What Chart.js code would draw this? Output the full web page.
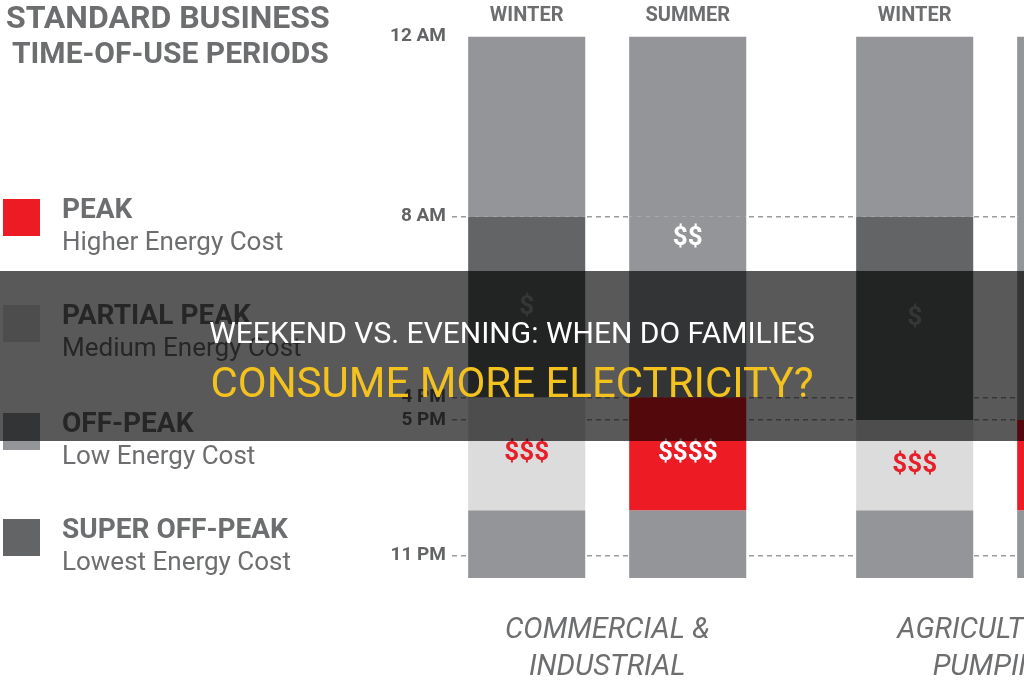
<!DOCTYPE html>
<html>
<head>
<meta charset="utf-8">
<script src="https://cdn.jsdelivr.net/npm/chart.js@4.4.1/dist/chart.umd.min.js"></script>
<style>
  html, body { margin: 0; padding: 0; width: 1024px; height: 680px; overflow: hidden; background: #ffffff; }
  #wrap { position: relative; width: 1024px; height: 680px; overflow: hidden; }
  #chart { position: absolute; left: 0; top: 0; }
  .t { position: absolute; white-space: nowrap; font-family: Roboto, "Liberation Sans", sans-serif; color: #6d6e70; }
  .title { font-weight: 700; }
  .sw { position: absolute; left: 3px; width: 37px; height: 37px; }
  .lname { font-weight: 700; font-size: 28px; line-height: 28px; left: 62px; }
  .ldesc { font-weight: 400; font-size: 26px; line-height: 26px; left: 62px; }
  #banner { position: absolute; left: 0; top: 271px; width: 1024px; height: 170px; background: rgba(0,0,0,0.65); z-index: 5; }
  .bt { position: absolute; left: 0; width: 1024px; text-align: center; white-space: nowrap; font-family: Roboto, "Liberation Sans", sans-serif; font-weight: 400; }
</style>
</head>
<body>
<div id="wrap">
  <canvas id="chart" width="1240" height="680"></canvas>
  <div class="t title" id="title1" style="left:6px; top:1px; font-size:32px; line-height:32px;"></div>
  <div class="t title" id="title2" style="left:12px; top:38px; font-size:30px; line-height:30px;"></div>
  <div id="legend"></div>
  <div id="banner">
    <div class="bt" id="head1" style="top:47px; font-size:30px; line-height:30px; color:#ffffff;"></div>
    <div class="bt" id="head2" style="top:91px; font-size:42px; line-height:42px; color:#f3c21f;"></div>
  </div>
</div>
<script>
// ---------- DATA ----------
const chartTitle = ['STANDARD BUSINESS', 'TIME-OF-USE PERIODS'];
const headline = ['WEEKEND VS. EVENING: WHEN DO FAMILIES', 'CONSUME MORE ELECTRICITY?'];

const categories = ['COMMERCIAL & INDUSTRIAL', 'AGRICULTURAL PUMPING'];
const categoryLines = [['COMMERCIAL &', 'INDUSTRIAL'], ['AGRICULTURAL', 'PUMPING']];
const categoryIndex = [1, 2];
const seasons = ['WINTER', 'SUMMER'];

// time periods in hours after midnight, [start, end] per category
const winterMorning = [[0, 8], [0, 8]];
const winterDay     = [[8, 16], [8, 17]];
const winterEvening = [[16, 21], [17, 21]];
const winterNight   = [[21, 24], [21, 24]];
const summerMorning = [[0, 8], [0, 8]];
const summerDay     = [[8, 16], [8, 17]];
const summerEvening = [[16, 21], [17, 21]];
const summerNight   = [[21, 24], [21, 24]];

const priceWinterDay = '$';
const priceWinterEvening = '$$$';
const priceSummerDay = '$$';
const priceSummerEvening = '$$$$';

const tickHours  = [0, 8, 16, 17, 23];
const tickLabels = ['12 AM', '8 AM', '4 PM', '5 PM', '11 PM'];

const legendNames = ['PEAK', 'PARTIAL PEAK', 'OFF-PEAK', 'SUPER OFF-PEAK'];
const legendDescs = ['Higher Energy Cost', 'Medium Energy Cost', 'Low Energy Cost', 'Lowest Energy Cost'];

// ---------- STYLES ----------
const COL_PEAK = '#ed1c24';
const COL_PARTIAL = '#dcdcdc';
const COL_OFF = '#939598';
const COL_SUPER = '#636466';
const legendColors = [COL_PEAK, COL_PARTIAL, COL_OFF, COL_SUPER];
const TEXT = '#6d6e70';

// ---------- HTML TEXT ----------
document.getElementById('title1').textContent = chartTitle[0];
document.getElementById('title2').textContent = chartTitle[1];
document.getElementById('head1').textContent = headline[0];
document.getElementById('head2').textContent = headline[1];
const legendEl = document.getElementById('legend');
const rowTops = [199, 305, 413, 519];
legendNames.forEach((n, i) => {
  const top = rowTops[i];
  const sw = document.createElement('div');
  sw.className = 'sw'; sw.style.top = top + 'px'; sw.style.background = legendColors[i];
  legendEl.appendChild(sw);
  const nm = document.createElement('div');
  nm.className = 't lname'; nm.style.top = (top - 4) + 'px'; nm.textContent = n;
  legendEl.appendChild(nm);
  const ds = document.createElement('div');
  ds.className = 't ldesc'; ds.style.top = (top + 29) + 'px'; ds.textContent = legendDescs[i];
  legendEl.appendChild(ds);
});

// ---------- CHART ----------
function pts(arr) { return categoryIndex.map((x, i) => ({ x: x, y: arr[i] })); }

const datasets = [
  { label: 'Winter off-peak (morning)', stack: 'winter', data: pts(winterMorning), backgroundColor: COL_OFF, season: seasons[0] },
  { label: 'Winter super off-peak', stack: 'winter', data: pts(winterDay), backgroundColor: COL_SUPER, price: priceWinterDay, priceColor: '#9a9b9e', priceAnchor: 'center' },
  { label: 'Winter partial peak', stack: 'winter', data: pts(winterEvening), backgroundColor: COL_PARTIAL, price: priceWinterEvening, priceColor: '#e5202a', priceAnchor: 'center' },
  { label: 'Winter off-peak (night)', stack: 'winter', data: pts(winterNight), backgroundColor: COL_OFF },
  { label: 'Summer off-peak (morning)', stack: 'summer', data: pts(summerMorning), backgroundColor: COL_OFF, season: seasons[1] },
  { label: 'Summer off-peak (day)', stack: 'summer', data: pts(summerDay), backgroundColor: COL_OFF, price: priceSummerDay, priceColor: '#ffffff', priceAnchor: 'top' },
  { label: 'Summer peak', stack: 'summer', data: pts(summerEvening), backgroundColor: COL_PEAK, price: priceSummerEvening, priceColor: '#ffffff', priceAnchor: 'center' },
  { label: 'Summer off-peak (night)', stack: 'summer', data: pts(summerNight), backgroundColor: COL_OFF }
];
datasets.forEach(d => { d.borderWidth = 0; d.categoryPercentage = 0.83; d.barPercentage = 0.727; });

const labelPlugin = {
  id: 'barLabels',
  afterDatasetsDraw(chart) {
    const ctx = chart.ctx;
    ctx.save();
    ctx.textAlign = 'center';
    ctx.textBaseline = 'middle';
    chart.data.datasets.forEach((ds, di) => {
      const meta = chart.getDatasetMeta(di);
      meta.data.forEach((el) => {
        const top = Math.min(el.y, el.base);
        const bottom = Math.max(el.y, el.base);
        if (ds.season) {
          ctx.font = '700 20px Roboto, "Liberation Sans", sans-serif';
          ctx.fillStyle = TEXT;
          ctx.fillText(ds.season, el.x, chart.chartArea.top - 20);
        }
        if (ds.price) {
          ctx.font = '700 26px Roboto, "Liberation Sans", sans-serif';
          ctx.fillStyle = ds.priceColor;
          const y = ds.priceAnchor === 'top' ? top + 22 : (top + bottom) / 2;
          ctx.fillText(ds.price, el.x, y);
        }
      });
    });
    ctx.restore();
  }
};

new Chart(document.getElementById('chart'), {
  type: 'bar',
  data: { datasets: datasets },
  options: {
    responsive: false,
    animation: false,
    devicePixelRatio: 1,
    layout: { padding: { left: 370, top: 36, right: 12, bottom: 0 } },
    plugins: { legend: { display: false }, tooltip: { enabled: false }, title: { display: false } },
    scales: {
      x: {
        type: 'linear',
        min: 0.6, max: 2.6,
        offset: false,
        grid: { display: false, offset: false },
        border: { display: false },
        afterBuildTicks: (s) => { s.ticks = categoryIndex.map(v => ({ value: v })); },
        afterFit: (s) => { s.height = 102; },
        ticks: {
          autoSkip: false, maxRotation: 0, padding: 27,
          color: TEXT,
          font: { family: 'Roboto, sans-serif', size: 29, style: 'italic', weight: '400', lineHeight: 1.25 },
          callback: (v, i) => categoryLines[i]
        }
      },
      y: {
        type: 'linear',
        reverse: true,
        min: 0, max: 24,
        stacked: false,
        afterBuildTicks: (s) => { s.ticks = tickHours.map(v => ({ value: v })); },
        afterFit: (s) => { s.width = 82; },
        grid: {
          drawTicks: false,
          lineWidth: 1.5,
          color: (c) => (c.tick && c.tick.value === 0) ? 'rgba(0,0,0,0)' : '#9c9c9c'
        },
        border: { display: false, dash: [5, 4] },
        ticks: {
          autoSkip: false, padding: 6,
          color: '#636466',
          font: { family: 'Roboto, "Liberation Sans", sans-serif', size: 19, weight: '700' },
          callback: (v, i) => tickLabels[i]
        }
      }
    }
  },
  plugins: [labelPlugin]
});
</script>
</body>
</html>
